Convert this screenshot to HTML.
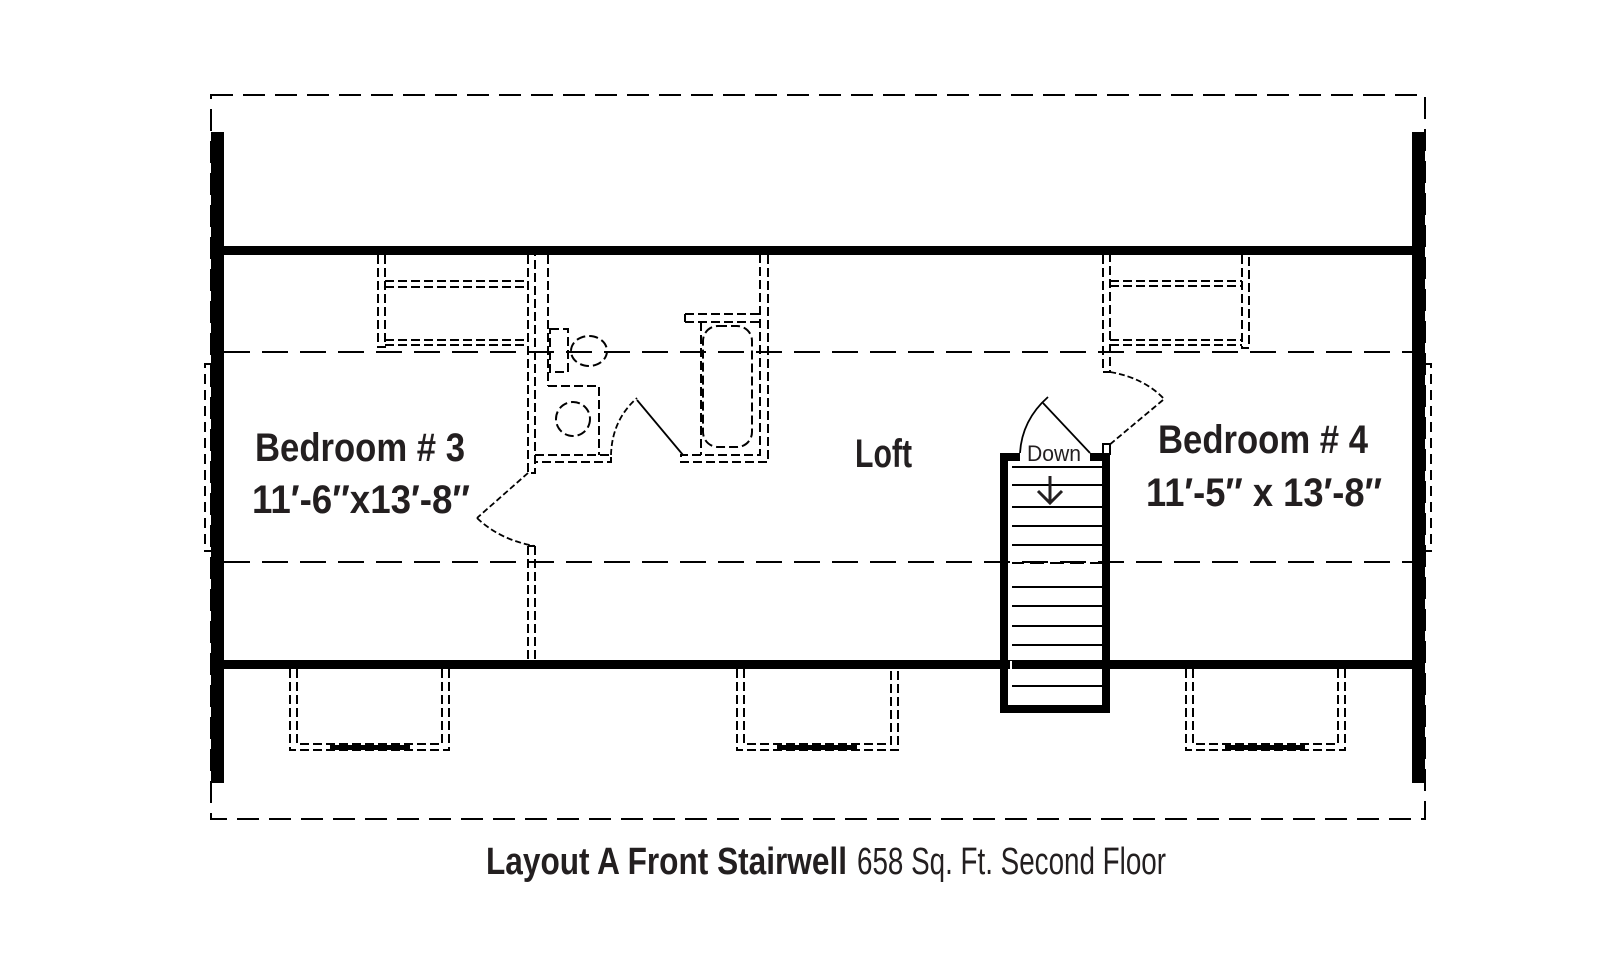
<!DOCTYPE html>
<html><head><meta charset="utf-8"><style>
html,body{margin:0;padding:0;background:#fff;}
svg{display:block;}
text{font-family:"Liberation Sans",sans-serif;fill:#231f20;}
</style></head><body>
<svg width="1600" height="960" viewBox="0 0 1600 960" xmlns="http://www.w3.org/2000/svg">
<g fill="none" stroke="#000">
<!-- outer dashed roof line -->
<rect x="211" y="95" width="1214" height="724" stroke-width="2" stroke-dasharray="22,10"/>
<!-- side bumps -->
<path d="M211 364 H205 V551 H211" stroke-width="2" stroke-dasharray="10,6"/>
<path d="M1425 364 H1431 V551 H1425" stroke-width="2" stroke-dasharray="10,6"/>
<!-- knee wall dashed lines -->
<line x1="224" y1="352" x2="1412" y2="352" stroke-width="2" stroke-dasharray="26,12"/>
<line x1="224" y1="562" x2="1412" y2="562" stroke-width="2" stroke-dasharray="26,12"/>
</g>
<!-- thick walls -->
<g fill="#000">
<rect x="211" y="132" width="13" height="651"/>
<rect x="1412" y="132" width="13" height="651"/>
<rect x="224" y="246" width="1188" height="9"/>
<rect x="224" y="660" width="1188" height="9"/>
</g>
<g fill="none" stroke="#000" stroke-width="2" stroke-dasharray="9,4">
<!-- left closet -->
<path d="M378 255 V347 H385 V255"/>
<path d="M385 281 H528 M385 287 H528"/>
<path d="M385 340 H528 M385 345 H528"/>
<!-- bath walls -->
<path d="M528 255 V473 H535 V255"/>
<path d="M548 255 V386"/>
<path d="M535 455 H611 V462 H535"/>
<!-- toilet -->
<rect x="550" y="329" width="18" height="43"/>
<ellipse cx="589" cy="351" rx="18" ry="15"/>
<!-- sink -->
<path d="M548 386 H599 V455"/>
<circle cx="573" cy="419" r="17"/>
<!-- tub -->
<path d="M768 255 V462 H681 V455 H760 V255"/>
<path d="M685 314 H760 M685 322 H760"/>
<path d="M685 314 V322 M701 322 V455"/>
<rect x="703" y="326" width="49" height="121" rx="15"/>
<!-- bedroom3 door wall -->
<path d="M528 546 V660 M535 546 V660 M528 546 H535"/>
<!-- right closet -->
<path d="M1103 255 V372 H1110 V255"/>
<path d="M1242 255 V348 H1249 V255"/>
<path d="M1110 281 H1242 M1110 286 H1242"/>
<path d="M1110 340 H1242 M1110 345 H1242"/>
<!-- bottom dormers -->
<path d="M290 669 V750 H449 V669 M297 669 V744 H442 V669"/>
<path d="M737 669 V750 H898 V669 M744 669 V744 H891 V669"/>
<path d="M1186 669 V750 H1345 V669 M1193 669 V744 H1338 V669"/>
</g>
<g fill="#000">
<rect x="330" y="745" width="80" height="5"/>
<rect x="777" y="745" width="80" height="5"/>
<rect x="1225" y="745" width="80" height="5"/>
</g>
<!-- doors -->
<g fill="none" stroke="#000" stroke-width="1.8">
<path d="M611 455 Q612 420 637 398" stroke-dasharray="6,3"/>
<line x1="637" y1="400" x2="683" y2="455"/>
<line x1="528" y1="473" x2="477" y2="518" stroke-dasharray="6,3"/>
<path d="M477 518 Q500 540 535 546" stroke-dasharray="6,3"/>
<path d="M1110 372 Q1145 378 1165 400" stroke-dasharray="6,3"/>
<line x1="1163" y1="400" x2="1108" y2="446" stroke-dasharray="6,3"/>
<path d="M1020 453 Q1022 420 1048 397"/>
<line x1="1043" y1="403" x2="1090" y2="453"/>
</g>
<rect x="1103" y="444" width="7" height="10" fill="#fff" stroke="#000" stroke-width="2"/>
<!-- stair -->
<g fill="#000">
<rect x="1000" y="453" width="20" height="8"/>
<rect x="1090" y="453" width="20" height="8"/>
<rect x="1000" y="453" width="8" height="260"/>
<rect x="1102" y="453" width="8" height="260"/>
<rect x="1000" y="705" width="110" height="8"/>
</g>
<g stroke="#000" stroke-width="2">
<line x1="1010" y1="467" x2="1102" y2="467"/>
<line x1="1010" y1="485" x2="1102" y2="485"/>
<line x1="1010" y1="507" x2="1102" y2="507"/>
<line x1="1010" y1="526" x2="1102" y2="526"/>
<line x1="1010" y1="545" x2="1102" y2="545"/>
<line x1="1010" y1="563" x2="1102" y2="563" stroke-dasharray="14,6"/>
<line x1="1010" y1="587" x2="1102" y2="587"/>
<line x1="1010" y1="606" x2="1102" y2="606"/>
<line x1="1010" y1="626" x2="1102" y2="626"/>
<line x1="1010" y1="645" x2="1102" y2="645"/>
<line x1="1010" y1="664" x2="1102" y2="664"/>
<line x1="1010" y1="686" x2="1102" y2="686"/>
<line x1="1011" y1="461" x2="1011" y2="705" stroke="#fff" stroke-dasharray="14,6"/>
</g>
<g fill="none" stroke="#231f20" stroke-width="3">
<line x1="1050" y1="476" x2="1050" y2="503"/>
<path d="M1038 491 L1050 503 L1062 491"/>
</g>
<text x="1027" y="461" font-size="22" textLength="54" lengthAdjust="spacingAndGlyphs">Down</text>
<!-- labels -->
<g font-weight="bold">
<text x="255" y="461" font-size="40" textLength="210" lengthAdjust="spacingAndGlyphs">Bedroom # 3</text>
<text x="252" y="513" font-size="40" textLength="218" lengthAdjust="spacingAndGlyphs">11′-6″x13′-8″</text>
<text x="855" y="467" font-size="40" textLength="57" lengthAdjust="spacingAndGlyphs">Loft</text>
<text x="1158" y="453" font-size="40" textLength="210" lengthAdjust="spacingAndGlyphs">Bedroom # 4</text>
<text x="1146" y="506" font-size="40" textLength="236" lengthAdjust="spacingAndGlyphs">11′-5″ x 13′-8″</text>
<text x="486" y="874" font-size="38" textLength="361" lengthAdjust="spacingAndGlyphs">Layout A Front Stairwell</text>
</g>
<text x="857" y="874" font-size="38" textLength="309" lengthAdjust="spacingAndGlyphs">658  Sq. Ft. Second Floor</text>
</svg>
</body></html>
